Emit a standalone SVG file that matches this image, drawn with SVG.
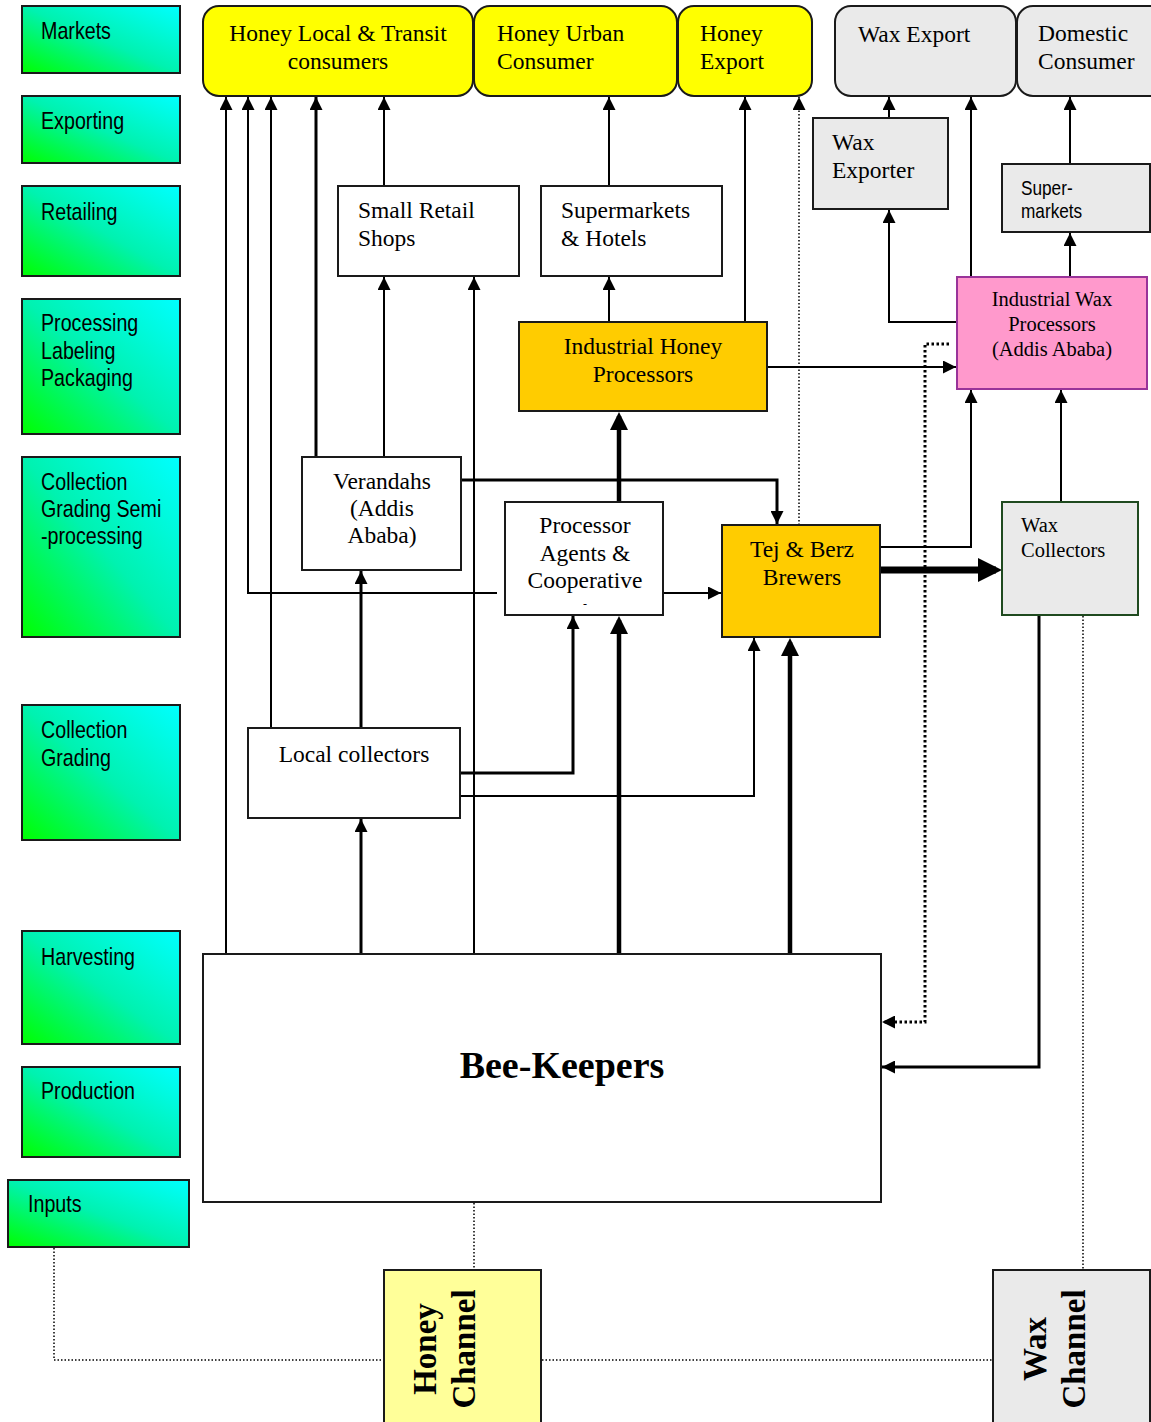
<svg xmlns="http://www.w3.org/2000/svg" width="1151" height="1422" viewBox="0 0 1151 1422">
<style>
.stg{fill:url(#grad);stroke:#1a1a1a;stroke-width:2}
.st{font-family:"Liberation Sans",Arial,sans-serif;font-size:24px;fill:#000}
.sts{font-family:"Liberation Sans",Arial,sans-serif;font-size:21px;fill:#000}
.box{stroke:#1a1a1a;stroke-width:2}
.w{fill:#fff}.y{fill:#ffff00}.g{fill:#eaeaea}.o{fill:#ffcc00}.p{fill:#ff99cc;stroke:#993399}.ly{fill:#ffff99}
.sr{font-family:"Liberation Serif","Times New Roman",serif;font-size:23.5px;fill:#000}
.srs{font-family:"Liberation Serif","Times New Roman",serif;font-size:20.5px;fill:#000}
.big{font-family:"Liberation Serif","Times New Roman",serif;font-weight:bold;fill:#000}
.mid{text-anchor:middle}
.c{fill:none;stroke:#000;stroke-width:2}
.m{fill:none;stroke:#000;stroke-width:3}
.t{fill:none;stroke:#000;stroke-width:4.5}
.x{fill:none;stroke:#000;stroke-width:7}
.d{fill:none;stroke:#000;stroke-width:1.5;stroke-dasharray:1.5 2}
.dd{fill:none;stroke:#000;stroke-width:3;stroke-dasharray:2.5 2.5}
</style>
<defs>
<linearGradient id="grad" x1="0" y1="1" x2="1" y2="0">
<stop offset="0" stop-color="#00ff00"/>
<stop offset="0.5" stop-color="#00f2b0"/>
<stop offset="1" stop-color="#00ffff"/>
</linearGradient>
<marker id="a" viewBox="0 0 13 13" refX="13" refY="6.5" markerWidth="13" markerHeight="13" markerUnits="userSpaceOnUse" orient="auto"><path d="M0,0 L13,6.5 L0,13 z" fill="#000"/></marker>
<marker id="ab" viewBox="0 0 18 18" refX="14" refY="9" markerWidth="18" markerHeight="18" markerUnits="userSpaceOnUse" orient="auto"><path d="M0,0 L18,9 L0,18 z" fill="#000"/></marker>
<marker id="ax" viewBox="0 0 24 24" refX="18" refY="12" markerWidth="24" markerHeight="24" markerUnits="userSpaceOnUse" orient="auto"><path d="M0,0 L24,12 L0,24 z" fill="#000"/></marker>
</defs>
<rect x="0" y="0" width="1151" height="1422" fill="#fff"/>

<!-- stage boxes -->
<g id="stage-markets"><rect class="stg" x="22" y="6" width="158" height="67"/><text class="st" transform="translate(41,39) scale(0.82,1)">Markets</text></g>
<g id="stage-exporting"><rect class="stg" x="22" y="96" width="158" height="67"/><text class="st" transform="translate(41,129) scale(0.82,1)">Exporting</text></g>
<g id="stage-retailing"><rect class="stg" x="22" y="186" width="158" height="90"/><text class="st" transform="translate(41,220) scale(0.82,1)">Retailing</text></g>
<g id="stage-processing"><rect class="stg" x="22" y="299" width="158" height="135"/><text class="st" transform="translate(41,331) scale(0.82,1)"><tspan x="0" y="0">Processing</tspan><tspan x="0" y="28">Labeling</tspan><tspan x="0" y="55">Packaging</tspan></text></g>
<g id="stage-collection-semi"><rect class="stg" x="22" y="457" width="158" height="180"/><text class="st" transform="translate(41,490) scale(0.82,1)"><tspan x="0" y="0">Collection</tspan><tspan x="0" y="27">Grading Semi</tspan><tspan x="0" y="54">-processing</tspan></text></g>
<g id="stage-collection"><rect class="stg" x="22" y="705" width="158" height="135"/><text class="st" transform="translate(41,738) scale(0.82,1)"><tspan x="0" y="0">Collection</tspan><tspan x="0" y="28">Grading</tspan></text></g>
<g id="stage-harvesting"><rect class="stg" x="22" y="931" width="158" height="113"/><text class="st" transform="translate(41,965) scale(0.82,1)">Harvesting</text></g>
<g id="stage-production"><rect class="stg" x="22" y="1067" width="158" height="90"/><text class="st" transform="translate(41,1099) scale(0.82,1)">Production</text></g>
<g id="stage-inputs"><rect class="stg" x="8" y="1180" width="181" height="67"/><text class="st" transform="translate(28,1212) scale(0.82,1)">Inputs</text></g>

<!-- connectors -->
<g id="connectors">
<path class="c" d="M226,954 V97" marker-end="url(#a)"/>
<path class="c" d="M497,593 H248 V97" marker-end="url(#a)"/>
<path class="c" d="M271,728 V97" marker-end="url(#a)"/>
<path class="m" d="M316,457 V97" marker-end="url(#a)"/>
<path class="c" d="M384,186 V97" marker-end="url(#a)"/>
<path class="c" d="M384,457 V277" marker-end="url(#a)"/>
<path class="c" d="M474,954 V277" marker-end="url(#a)"/>
<path class="c" d="M609,186 V97" marker-end="url(#a)"/>
<path class="c" d="M609,322 V277" marker-end="url(#a)"/>
<path class="c" d="M745,322 V97" marker-end="url(#a)"/>
<path class="d" d="M799,525 V97" marker-end="url(#a)"/>
<path class="c" d="M768,367 H956" marker-end="url(#a)"/>
<path class="c" d="M889,118 V97" marker-end="url(#a)"/>
<path class="c" d="M957,322 H889 V210" marker-end="url(#a)"/>
<path class="c" d="M971,277 V97" marker-end="url(#a)"/>
<path class="c" d="M1070,164 V97" marker-end="url(#a)"/>
<path class="c" d="M1070,277 V233" marker-end="url(#a)"/>
<path class="c" d="M881,547 H971 V390" marker-end="url(#a)"/>
<path class="c" d="M1061,502 V390" marker-end="url(#a)"/>
<path class="x" d="M881,570 H996" marker-end="url(#ax)"/>
<path class="m" d="M461,480 H777 V524" marker-end="url(#a)"/>
<path class="t" d="M619,502 V416" marker-end="url(#ab)"/>
<path class="c" d="M664,593 H721" marker-end="url(#a)"/>
<path class="m" d="M361,728 V571" marker-end="url(#a)"/>
<path class="m" d="M461,773 H573 V616" marker-end="url(#a)"/>
<path class="c" d="M461,796 H754 V638" marker-end="url(#a)"/>
<path class="m" d="M361,954 V819" marker-end="url(#a)"/>
<path class="t" d="M619,954 V620" marker-end="url(#ab)"/>
<path class="t" d="M790,954 V642" marker-end="url(#ab)"/>
<path class="dd" d="M949,344 H925 V1022 H882" marker-end="url(#a)"/>
<path class="m" d="M1039,616 V1067 H882" marker-end="url(#a)"/>
<path class="d" d="M1083,616 V1270"/>
<path class="d" d="M474,1203 V1270"/>
<path class="d" d="M54,1248 V1360 H384"/>
<path class="d" d="M542,1360 H993"/>
</g>

<!-- top row -->
<g id="honey-local"><rect class="box y" x="203" y="6" width="270" height="90" rx="16"/><text class="sr mid" x="338" y="41">Honey Local &amp; Transit</text><text class="sr mid" x="338" y="69">consumers</text></g>
<g id="honey-urban"><rect class="box y" x="474" y="6" width="203" height="90" rx="16"/><text class="sr" x="497" y="41">Honey Urban</text><text class="sr" x="497" y="69">Consumer</text></g>
<g id="honey-export"><rect class="box y" x="678" y="6" width="134" height="90" rx="16"/><text class="sr" x="700" y="41">Honey</text><text class="sr" x="700" y="69">Export</text></g>
<g id="wax-export"><rect class="box g" x="835" y="6" width="181" height="90" rx="16"/><text class="sr" x="858" y="42">Wax Export</text></g>
<g id="domestic-consumer"><rect class="box g" x="1017" y="6" width="160" height="90" rx="16"/><text class="sr" x="1038" y="41">Domestic</text><text class="sr" x="1038" y="69">Consumer</text></g>

<g id="wax-exporter"><rect class="box g" x="813" y="118" width="135" height="91"/><text class="sr" x="832" y="150">Wax</text><text class="sr" x="832" y="178">Exporter</text></g>
<g id="super-markets"><rect class="box g" x="1002" y="164" width="148" height="68"/><text class="sts" transform="translate(1021,195) scale(0.82,1)"><tspan x="0" y="0">Super-</tspan><tspan x="0" y="23">markets</tspan></text></g>
<g id="small-retail"><rect class="box w" x="338" y="186" width="181" height="90"/><text class="sr" x="358" y="218">Small Retail</text><text class="sr" x="358" y="246">Shops</text></g>
<g id="supermarkets-hotels"><rect class="box w" x="541" y="186" width="181" height="90"/><text class="sr" x="561" y="218">Supermarkets</text><text class="sr" x="561" y="246">&amp; Hotels</text></g>
<g id="industrial-honey"><rect class="box o" x="519" y="322" width="248" height="89"/><text class="sr mid" x="643" y="354">Industrial Honey</text><text class="sr mid" x="643" y="382">Processors</text></g>
<g id="industrial-wax"><rect class="box p" x="957" y="277" width="190" height="112"/><text class="srs mid" x="1052" y="306">Industrial Wax</text><text class="srs mid" x="1052" y="331">Processors</text><text class="srs mid" x="1052" y="356">(Addis Ababa)</text></g>
<g id="verandahs"><rect class="box w" x="302" y="457" width="159" height="113"/><text class="sr mid" x="382" y="489">Verandahs</text><text class="sr mid" x="382" y="516">(Addis</text><text class="sr mid" x="382" y="543">Ababa)</text></g>
<g id="processor-agents"><rect class="box w" x="505" y="502" width="158" height="113"/><text class="sr mid" x="585" y="533">Processor</text><text class="sr mid" x="585" y="561">Agents &amp;</text><text class="sr mid" x="585" y="588">Cooperative</text><text class="srs mid" x="585" y="608" style="font-size:12px">-</text></g>
<g id="tej-berz"><rect class="box o" x="722" y="525" width="158" height="112"/><text class="sr mid" x="802" y="557">Tej &amp; Berz</text><text class="sr mid" x="802" y="585">Brewers</text></g>
<g id="wax-collectors"><rect class="box g" x="1002" y="502" width="136" height="113" style="stroke:#1f4a1f"/><text class="srs" x="1021" y="532">Wax</text><text class="srs" x="1021" y="557">Collectors</text></g>
<g id="local-collectors"><rect class="box w" x="248" y="728" width="212" height="90"/><text class="sr mid" x="354" y="762">Local collectors</text></g>
<g id="bee-keepers"><rect class="box w" x="203" y="954" width="678" height="248"/><text class="big mid" x="562" y="1078" style="font-size:38px">Bee-Keepers</text></g>
<g id="honey-channel"><rect class="box ly" x="384" y="1270" width="157" height="170"/><text class="big mid" style="font-size:33px" transform="translate(436,1349) rotate(-90)"><tspan x="0" y="0">Honey</tspan><tspan x="0" y="39">Channel</tspan></text></g>
<g id="wax-channel"><rect class="box g" x="993" y="1270" width="157" height="170"/><text class="big mid" style="font-size:33px" transform="translate(1046,1349) rotate(-90)"><tspan x="0" y="0">Wax</tspan><tspan x="0" y="39">Channel</tspan></text></g>
</svg>
